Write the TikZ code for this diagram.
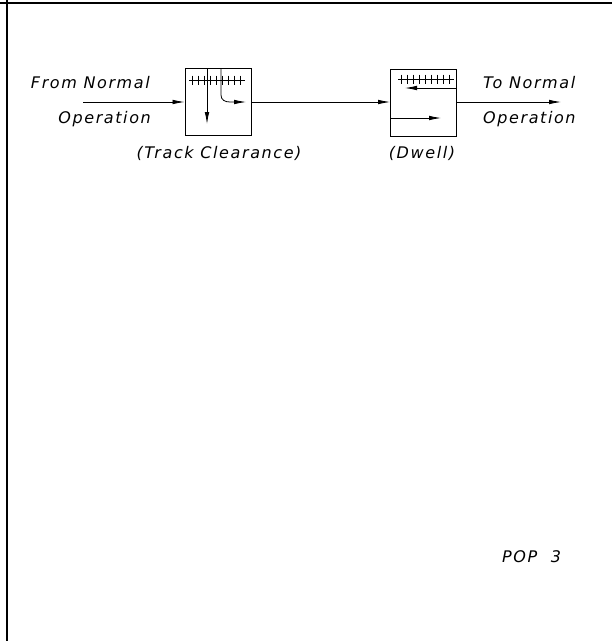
\documentclass[tikz,border=0pt]{standalone}
\usepackage{fontspec}
\setmainfont{DejaVu Sans}[LetterSpace=10]
\usetikzlibrary{arrows.meta}
\tikzset{
  lbl/.style={font=\fontsize{16}{18}\selectfont\itshape, inner sep=0pt},
  phase/.style={draw, line width=0.9pt, minimum width=66pt, minimum height=67pt, inner sep=0pt},
  flow/.style={line width=0.8pt, -{Latex[length=12pt,width=4.6pt]}},
  track/.style={line width=0.7pt},
  frame/.style={line width=1.4pt}
}
\begin{document}
\begin{tikzpicture}[x=1pt,y=-1pt]
\useasboundingbox (0,0) rectangle (612,641);
% frame
\draw[frame] (0,3) -- (612,3);
\draw[frame] (7,0) -- (7,641);
% boxes
\node[phase] (b1) at (218,102) {};
\node[phase] (b2) at (423.5,102.5) {};
% inside box 1
\draw[track] (189,80) -- (245,80);
\foreach \i in {0,...,8} \draw[track] (192+6*\i,75.5) -- (192+6*\i,84.5);
\draw[flow] (207,68.5) -- (207,124);
\draw[flow] (221,68.5) -- (221,95) .. controls (221,100) and (225,102) .. (230,102) -- (246,102);
% inside box 2
\draw[track] (398,79) -- (454,79);
\foreach \i in {0,...,8} \draw[track] (401+6*\i,74.5) -- (401+6*\i,83.5);
\draw[flow] (b2.east |- 0,88) -- (405,88);
\draw[flow] (b2.west |- 0,118) -- (441,118);
% connectors
\coordinate (in) at (83,102);
\coordinate (out) at (561,102);
\draw[flow] (in) -- (b1.west);
\draw[flow] (b1.east) -- (b1.east -| b2.west);
\draw[flow] (b2.east |- 0,102) -- (out);
% labels
\node[lbl, anchor=base east] (t1) at (150,88) {From Normal};
\node[lbl, anchor=base east] (t2) at (151,123) {Operation};
\node[lbl, anchor=base west] (t3) at (483,88) {To Normal};
\node[lbl, anchor=base west] (t4) at (483,123) {Operation};
\node[lbl, anchor=base] (t5) at (219,158) {(Track Clearance)};
\node[lbl, anchor=base] (t6) at (422,158) {(Dwell)};
\node[lbl, anchor=base west] (t7) at (502,562) {POP\hspace{7pt} 3};
\end{tikzpicture}
\end{document}
